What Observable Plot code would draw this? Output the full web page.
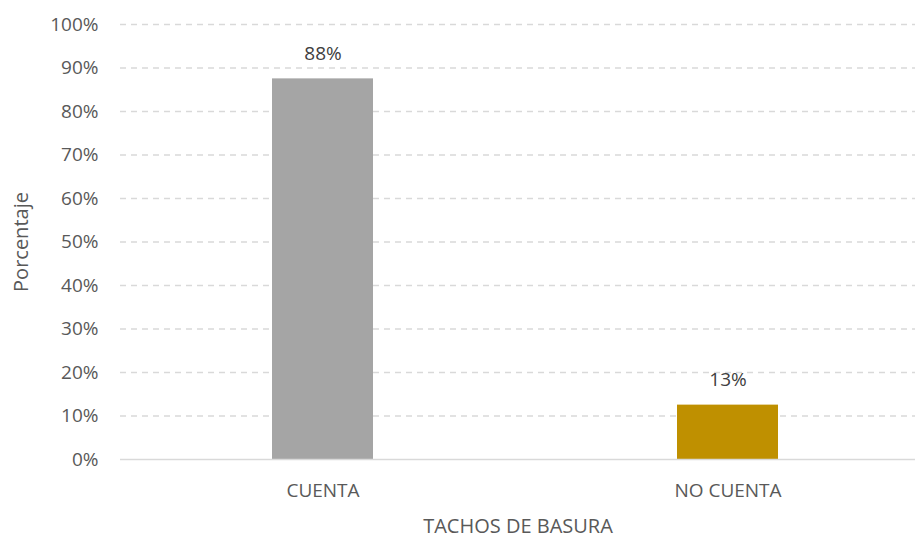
<!DOCTYPE html>
<html>
<head>
<meta charset="utf-8">
<script src="https://cdn.jsdelivr.net/npm/d3@7"></script>
<script src="https://cdn.jsdelivr.net/npm/@observablehq/plot@0.6"></script>
<style>
  html, body { margin: 0; padding: 0; background: #fff; }
  #chart svg { display: block; }
</style>
</head>
<body>
<div id="chart"></div>
<script>
const categories = ["CUENTA", "NO CUENTA"];
const values = [87.5, 12.5];
const valueLabels = ["88%", "13%"];
const colors = ["#A5A5A5", "#BF9000"];
const yTicks = [0, 10, 20, 30, 40, 50, 60, 70, 80, 90, 100];

const data = categories.map((c, i) => ({cat: c, value: values[i], label: valueLabels[i], color: colors[i]}));
const font = "'Open Sans', sans-serif";

const chart = Plot.plot({
  width: 918,
  height: 538,
  marginLeft: 120,
  marginRight: 3,
  marginTop: 24,
  marginBottom: 79,
  style: {fontFamily: font, fontSize: "19px", color: "#595959", background: "#fff"},
  x: {domain: categories, range: [120, 930], paddingInner: 0.75, paddingOuter: 0.375, label: null},
  y: {domain: [0, 100], label: null},
  marks: [
    Plot.ruleY(yTicks.filter(d => d > 0), {stroke: "#D9D9D9", strokeWidth: 1.5, strokeDasharray: "6,5"}),
    Plot.barY(data, {x: "cat", y: "value", fill: "color"}),
    Plot.ruleY([0], {stroke: "#D9D9D9", strokeWidth: 1.5}),
    Plot.text(data, {x: "cat", y: "value", text: "label", dy: -25, fill: "#404040", fontSize: 19}),
    Plot.axisY({ticks: yTicks, tickSize: 0, tickPadding: 22, tickFormat: d => d + "%", fontSize: 19, fill: "#595959", label: null}),
    Plot.axisX({tickSize: 0, tickPadding: 24, fontSize: 19, fill: "#595959", label: null}),
    Plot.text(["TACHOS DE BASURA"], {frameAnchor: "bottom", dy: 73, fill: "#595959", fontSize: 20, text: d => d}),
    Plot.text(["Porcentaje"], {frameAnchor: "left", textAnchor: "middle", dx: -99, rotate: -90, fill: "#595959", fontSize: 20, text: d => d})
  ]
});
document.getElementById("chart").appendChild(chart);
</script>
</body>
</html>
